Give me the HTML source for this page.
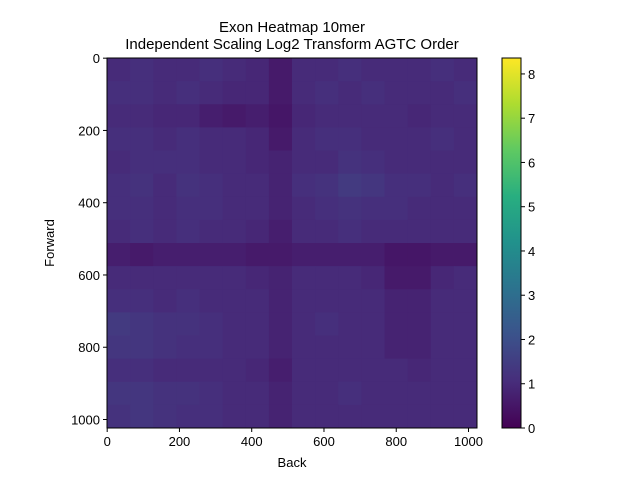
<!DOCTYPE html>
<html><head><meta charset="utf-8"><style>
body{margin:0;background:#fff;width:640px;height:480px;overflow:hidden}
svg text{font-family:"Liberation Sans","DejaVu Sans",sans-serif;fill:#000}
</style></head><body>
<svg id="chart" width="640" height="480">
<text x="292" y="32" font-size="15" text-anchor="middle">Exon Heatmap 10mer</text>
<text x="292" y="49" font-size="15" text-anchor="middle">Independent Scaling Log2 Transform AGTC Order</text>
<g id="cells"></g>
<rect x="107" y="58" width="370" height="370" fill="none" stroke="#000" stroke-width="1"/>
<g id="xticks"></g>
<g id="yticks"></g>
<text x="292" y="467" font-size="13" text-anchor="middle">Back</text>
<text transform="translate(54,243) rotate(-90)" font-size="13" text-anchor="middle">Forward</text>
<defs><linearGradient id="vg" x1="0" y1="1" x2="0" y2="0">
<stop offset="0" stop-color="#440154"/><stop offset="0.125" stop-color="#472d7b"/><stop offset="0.25" stop-color="#3b528b"/><stop offset="0.375" stop-color="#2c728e"/><stop offset="0.5" stop-color="#21918c"/><stop offset="0.625" stop-color="#28ae80"/><stop offset="0.75" stop-color="#5ec962"/><stop offset="0.875" stop-color="#addc30"/><stop offset="1" stop-color="#fde725"/></linearGradient></defs>
<rect x="502" y="58" width="19" height="370" fill="url(#vg)" stroke="#000" stroke-width="1"/>
<g id="cticks"></g>
</svg>
<script>
const xTicks=[0,200,400,600,800,1000];
const yTicks=[0,200,400,600,800,1000];
const cTicks=[0,1,2,3,4,5,6,7,8];
const gridValues=[
[1.0,1.1,1.0,1.0,1.1,1.0,0.9,0.6,1.0,1.0,1.1,1.0,1.0,1.0,1.1,1.0],
[1.1,1.1,1.0,1.1,1.0,0.9,0.9,0.6,1.0,1.1,1.0,1.1,1.0,1.0,1.0,1.1],
[1.0,1.0,0.9,0.9,0.7,0.6,0.7,0.5,0.9,1.0,1.0,1.0,1.0,0.9,1.0,1.0],
[1.1,1.1,1.0,1.1,1.0,1.0,0.9,0.6,1.0,1.1,1.1,1.0,1.0,1.0,1.1,1.0],
[1.0,1.1,1.1,1.1,1.0,1.0,0.9,0.8,1.0,1.0,1.2,1.1,1.0,1.0,1.0,1.0],
[1.1,1.2,1.0,1.2,1.1,1.0,1.0,0.8,1.1,1.2,1.4,1.3,1.1,1.1,1.0,1.1],
[1.1,1.1,1.0,1.1,1.1,1.0,1.0,0.8,1.0,1.1,1.2,1.1,1.1,1.0,1.0,1.0],
[1.0,1.1,1.0,1.1,1.0,1.0,0.9,0.7,1.0,1.0,1.1,1.0,1.0,1.0,1.0,1.0],
[0.7,0.6,0.7,0.7,0.7,0.7,0.6,0.6,0.7,0.7,0.7,0.7,0.5,0.5,0.6,0.6],
[1.0,1.0,1.0,1.0,1.0,1.0,0.9,0.8,1.0,1.0,1.0,0.9,0.6,0.6,0.9,1.0],
[1.1,1.1,1.0,1.1,1.0,1.0,1.0,0.8,1.0,1.0,1.0,1.0,0.8,0.8,1.0,1.0],
[1.4,1.3,1.2,1.2,1.1,1.0,1.0,0.8,1.0,1.1,1.0,1.0,0.8,0.8,1.0,1.0],
[1.3,1.3,1.2,1.1,1.1,1.0,1.0,0.8,1.0,1.0,1.0,1.0,0.8,0.8,1.0,1.0],
[1.1,1.1,1.0,1.0,1.0,1.0,0.9,0.7,1.0,1.0,1.0,1.0,1.0,0.9,1.0,1.0],
[1.3,1.3,1.2,1.2,1.1,1.0,1.0,0.8,1.0,1.0,1.1,1.0,1.0,1.0,1.0,1.0],
[1.2,1.3,1.2,1.1,1.1,1.0,1.0,0.8,1.0,1.0,1.0,1.0,1.0,1.0,1.0,1.0]];
const N=1024, vmax=8.36;
const X0=107,Y0=58,W=370;
const sx=v=>X0+v/N*W, sy=v=>Y0+v/N*W, sc=v=>428-v/vmax*370;
const stops=["#440154","#472d7b","#3b528b","#2c728e","#21918c","#28ae80","#5ec962","#addc30","#fde725"];
function hex(h){return [1,3,5].map(i=>parseInt(h.substr(i,2),16));}
function viridis(t){t=Math.max(0,Math.min(1,t));const p=t*8,i=Math.min(7,Math.floor(p)),f=p-i;const a=hex(stops[i]),b=hex(stops[i+1]);return 'rgb('+a.map((c,k)=>Math.round(c+(b[k]-c)*f)).join(',')+')';}
const NS='http://www.w3.org/2000/svg';
const cells=document.getElementById('cells');
const rows=gridValues.length, cols=gridValues[0].length;
gridValues.forEach((row,r)=>row.forEach((v,c)=>{
 const el=document.createElementNS(NS,'rect');
 const x1=sx(c*N/cols),x2=sx((c+1)*N/cols),y1=sy(r*N/rows),y2=sy((r+1)*N/rows);
 el.setAttribute('x',x1);el.setAttribute('y',y1);el.setAttribute('width',x2-x1+0.5);el.setAttribute('height',y2-y1+0.5);
 el.setAttribute('fill',viridis(v/vmax));
 
 
 cells.appendChild(el);
}));
function tick(g,x1,y1,x2,y2,tx,ty,label,anchor){
 const l=document.createElementNS(NS,'line');l.setAttribute('x1',x1);l.setAttribute('y1',y1);l.setAttribute('x2',x2);l.setAttribute('y2',y2);l.setAttribute('stroke','#000');
 
 
 g.appendChild(l);
 const t=document.createElementNS(NS,'text');t.setAttribute('x',tx);t.setAttribute('y',ty);t.setAttribute('font-size','13');t.setAttribute('text-anchor',anchor);t.textContent=label;
 
 
 g.appendChild(t);
}
const gx=document.getElementById('xticks'),gy=document.getElementById('yticks'),gc=document.getElementById('cticks');
xTicks.forEach(v=>{const x=sx(v+0.5);tick(gx,x,428,x,432,x,446,String(v),'middle');});
yTicks.forEach(v=>{const y=sy(v+0.5);tick(gy,103,y,107,y,100,y+5,String(v),'end');});
cTicks.forEach(v=>{const y=sc(v);tick(gc,521,y,525,y,528,y+5,String(v),'start');});
</script>
</body></html>
